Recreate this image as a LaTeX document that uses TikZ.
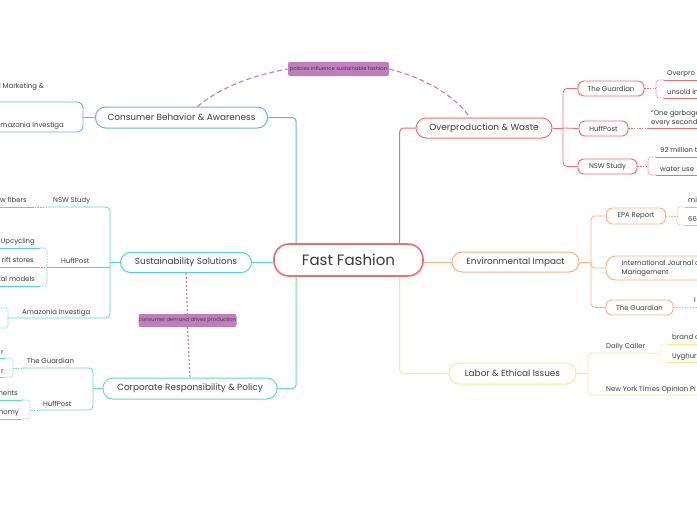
\documentclass[tikz,border=0pt]{standalone}
\usepackage{fontspec}
\setmainfont{Poppins}
\usetikzlibrary{calc}
\definecolor{txt}{HTML}{3C3C3C}
\definecolor{cred}{HTML}{F26D6D}
\definecolor{cblue}{HTML}{6CB2F0}
\definecolor{ccyan}{HTML}{4FD3E0}
\definecolor{cgreen}{HTML}{66DDB8}
\definecolor{corange}{HTML}{FDB27E}
\definecolor{cyellow}{HTML}{FBE98A}
\definecolor{cpurple}{HTML}{C27BC4}
\definecolor{cpfill}{HTML}{C07EBF}
\tikzset{
  ffbox/.style={draw=cred, line width=1.6pt, rounded corners=15pt, minimum width=149pt, minimum height=32pt, inner sep=0pt, fill=white, text=txt, font=\fontsize{15}{16}\selectfont},
  mainbox/.style={line width=1pt, rounded corners=10pt, minimum height=20pt, inner sep=0pt, fill=white, text=txt, font=\fontsize{8.9}{10}\selectfont},
  subbox/.style={line width=0.9pt, rounded corners=6pt, minimum height=15pt, inner sep=0pt, fill=white, text=txt, font=\fontsize{6.9}{7.8}\selectfont},
  leaf/.style={anchor=base west, inner sep=0pt, text=txt, font=\fontsize{6.9}{7.8}\selectfont},
  leafe/.style={anchor=base east, inner sep=0pt, text=txt, font=\fontsize{6.9}{7.8}\selectfont},
  rellabel/.style={fill=cpfill, rounded corners=2pt, inner sep=0pt, text=txt, font=\fontsize{5.2}{6}\selectfont},
  mainline/.style={line width=1pt, rounded corners=4pt},
  subline/.style={line width=0.8pt, rounded corners=4pt},
  uline/.style={line width=0.6pt},
  ldash/.style={line width=0.6pt, dash pattern=on 1.5pt off 1.2pt, rounded corners=3pt},
  reldash/.style={cpurple, line width=1.1pt, dash pattern=on 5pt off 3pt},
  reldot/.style={cpurple, line width=1.2pt, dash pattern=on 2pt off 2pt},
}
\begin{document}
\begin{tikzpicture}[x=1pt,y=-1pt]
\useasboundingbox[fill=white] (0,0) rectangle (697,520);

% ---------- central and main topics ----------
\node[ffbox] (ff) at (348.5,260) {Fast Fashion};
\node[mainbox, draw=cblue, minimum width=172pt, minimum height=21pt] (cons) at (181.5,117.5) {Consumer Behavior \& Awareness};
\node[mainbox, draw=ccyan, minimum width=131pt] (sust) at (186,262.5) {Sustainability Solutions};
\node[mainbox, draw=cgreen, minimum width=174pt, minimum height=21pt] (corp) at (190,388.5) {Corporate Responsibility \& Policy};
\node[mainbox, draw=cred, minimum width=136pt] (over) at (484,128) {Overproduction \& Waste};
\node[mainbox, draw=corange, minimum width=127pt] (env) at (515.5,262) {Environmental Impact};
\node[mainbox, draw=cyellow, minimum width=127pt, minimum height=21pt] (labor) at (512.5,373.5) {Labor \& Ethical Issues};

% main connectors
\coordinate (bT) at ($(ff.north west)+(23,0)$);
\coordinate (gB) at ($(ff.south west)+(23,0)$);
\coordinate (rT) at ($(ff.north west)+(126.5,0)$);
\coordinate (yB) at ($(ff.south west)+(126.5,0)$);
\draw[cblue, mainline] (cons.east) -| (bT);
\draw[cgreen, mainline] (corp.east) -| (gB);
\draw[cred, mainline] (over.west) -| (rT);
\draw[cyellow, mainline] (labor.west) -| (yB);
\draw[ccyan, mainline] (sust.east) -- (ff.west |- sust.east);
\draw[corange, mainline] (ff.east |- env.west) -- (env.west);

% ---------- Overproduction & Waste ----------
\node[subbox, draw=cred, minimum width=66pt] (og) at (611,88.5) {The Guardian};
\node[subbox, draw=cred, minimum width=49pt] (oh) at (603.5,128.5) {HuffPost};
\node[subbox, draw=cred, minimum width=59pt] (on) at (607.5,166.5) {NSW Study};
\coordinate (ob) at (563,128);
\draw[cred, mainline] (over.east) -- (ob);
\draw[cred, subline] (og.west) -| (ob) |- (on.west);
\draw[cred, subline] (ob) -- (oh.west);
% Guardian leaves
\coordinate (ogb) at (656,88.5);
\draw[cred, ldash] (og.east) -- (ogb);
\draw[cred, ldash] (664,80) -| (ogb) |- (664,98);
\draw[cred, uline] (664,80) -- (700,80) (664,98) -- (700,98);
\node[leaf] (og1) at (667,75.5) {Overpro};
\node[leaf] (og2) at (667,94.5) {unsold in};
% HuffPost leaf
\coordinate (ohb) at (648,128.5);
\draw[cred, ldash] (oh.east) -- (ohb);
\draw[cred, uline] (ohb) -- (700,128.5);
\node[leaf] (oh1) at (651,115.5) {“One garbage};
\node[leaf] (oh2) at (651,124.5) {every second};
% NSW leaves
\coordinate (onb) at (648,166.5);
\draw[cred, ldash] (on.east) -- (onb);
\draw[cred, ldash] (656,157) -| (onb) |- (656,175);
\draw[cred, uline] (656,157) -- (700,157) (656,175) -- (700,175);
\node[leaf] (on1) at (660,152.5) {92 million t};
\node[leaf] (on2) at (660,171.5) {water use};

% ---------- Environmental Impact ----------
\node[subbox, draw=corange, minimum width=59pt, minimum height=16pt] (ee) at (636,216) {EPA Report};
\node[subbox, draw=corange, minimum width=130pt, minimum height=24pt, rounded corners=10pt] (ej) at (671,268) {};
\node[leaf, anchor=base west] (ej1) at (621.5,265.5) {International Journal of};
\node[leaf, anchor=base west] (ej2) at (621.5,274.5) {Management};
\node[subbox, draw=corange, minimum width=67pt] (eg) at (639.5,307.5) {The Guardian};
\coordinate (eb) at (591,262);
\draw[corange, mainline] (env.east) -- (eb);
\draw[corange, subline] (ee.west) -| (eb) |- (eg.west);
\draw[corange, subline] (eb) |- (ej.west);
\coordinate (eeb) at (677,216);
\draw[corange, ldash] (ee.east) -- (eeb);
\draw[corange, ldash] (685,207) -| (eeb) |- (685,225);
\draw[corange, uline] (685,207) -- (700,207) (685,225) -- (700,225);
\node[leaf] (ee1) at (688,202.5) {mi};
\node[leaf] (ee2) at (688,221.5) {66};
\coordinate (egb) at (700,307.5);
\draw[corange, ldash] (eg.east) -- (egb);
\node[leaf] (eg1) at (694,302) {I};

% ---------- Labor & Ethical Issues ----------
\coordinate (lb) at (588,373.5);
\draw[cyellow, mainline] (labor.east) -- (lb);
\node[leaf] (ld) at (606,348.5) {Daily Caller};
\node[leaf] (ln) at (606,391.5) {New York Times Opinion Pi};
\coordinate (ldu) at (652,353);
\coordinate (lnu) at (700,395);
\draw[cyellow, subline] (ldu) -| (lb) |- (lnu);
\coordinate (ldb) at (660,353);
\draw[cyellow, ldash] (ldu) -- (ldb);
\draw[cyellow, ldash] (668,344) -| (ldb) |- (668,362);
\draw[cyellow, uline] (668,344) -- (700,344) (668,362) -- (700,362);
\node[leaf] (ld1) at (672,339.5) {brand c};
\node[leaf] (ld2) at (672,358.5) {Uyghur};

% ---------- Consumer Behavior (left) ----------
\draw[cblue, line width=0.9pt, rounded corners=6pt] (-20,102) rectangle (83,132);
\coordinate (cb) at (83,117.5);
\draw[cblue, mainline] (cons.west) -- (cb);
\node[leaf] (c1) at (-1,88) {l Marketing \&};
\node[leafe] (c2) at (64,127.5) {Amazonia Investiga};

% ---------- Sustainability Solutions (left) ----------
\coordinate (sb) at (110,262.5);
\draw[ccyan, mainline] (sust.west) -- (sb);
\node[leaf] (sn) at (53,202.5) {NSW Study};
\node[leaf] (sh) at (61,263) {HuffPost};
\node[leaf] (sa) at (22,314) {Amazonia Investiga};
\draw[ccyan, subline] (48,207) -| (sb) |- (8,318);
\draw[ccyan, subline] (48,267) -- (110,267);
% NSW leaf
\draw[ccyan, ldash] (32,207) -- (48,207);
\draw[ccyan, uline] (-2,207) -- (32,207);
\node[leafe] (sn1) at (27,202.5) {w fibers};
% HuffPost leaves
\draw[ccyan, ldash] (48,267) -- (40,267);
\draw[ccyan, ldash] (40,248) -| (47,286) -- (40,286);
\draw[ccyan, uline] (-2,248) -- (40,248) (-2,267) -- (40,267) (-2,286) -- (40,286);
\node[leafe] (sh1) at (35,243.5) {Upcycling};
\node[leafe] (sh2) at (34,262.5) {rift stores};
\node[leafe] (sh3) at (35,281.5) {tal models};
% Amazonia leaves bracket
\draw[ccyan, ldash] (-2,308) -| (8,328) -- (-2,328);

% ---------- Corporate Responsibility (left) ----------
\coordinate (gb) at (93,388.5);
\draw[cgreen, mainline] (corp.west) -- (gb);
\node[leaf] (gg) at (27,363.5) {The Guardian};
\node[leaf] (gh) at (43,406) {HuffPost};
\draw[cgreen, subline] (22,368) -| (gb) |- (38,410);
\draw[cgreen, ldash] (22,368) -- (13,368);
\draw[cgreen, ldash] (5,358) -| (13,377) -- (5,377);
\draw[cgreen, uline] (-2,358) -- (5,358) (-2,377) -- (5,377);
\node[leafe] (gg1) at (4,354) {r};
\node[leafe] (gg2) at (4,373) {r};
\draw[cgreen, ldash] (38,410) -- (30,410);
\draw[cgreen, ldash] (22,400) -| (30,419) -- (22,419);
\draw[cgreen, uline] (-2,400) -- (22,400) (-2,419) -- (22,419);
\node[leafe] (gh1) at (18,395.5) {ments};
\node[leafe] (gh2) at (19,414.5) {nomy};

% ---------- relationships ----------
\node[rellabel, minimum width=101pt, minimum height=14pt] (pol) at (338.5,69) {policies influence sustainable fashion};
\node[rellabel, minimum width=98pt, minimum height=13pt] (dem) at (187.5,320.5) {consumer demand drives production};
\draw[reldash] ($(cons.north)+(16,0)$) .. controls (222,86) and (255,75) .. (pol.west);
\draw[reldash] (pol.east) .. controls (420,77) and (452,92) .. ($(over.north)+(-14,0)$);
\draw[reldot] (sust.south) -- (dem.north);
\draw[reldot] (dem.south) -- (corp.north);
\end{tikzpicture}
\end{document}
